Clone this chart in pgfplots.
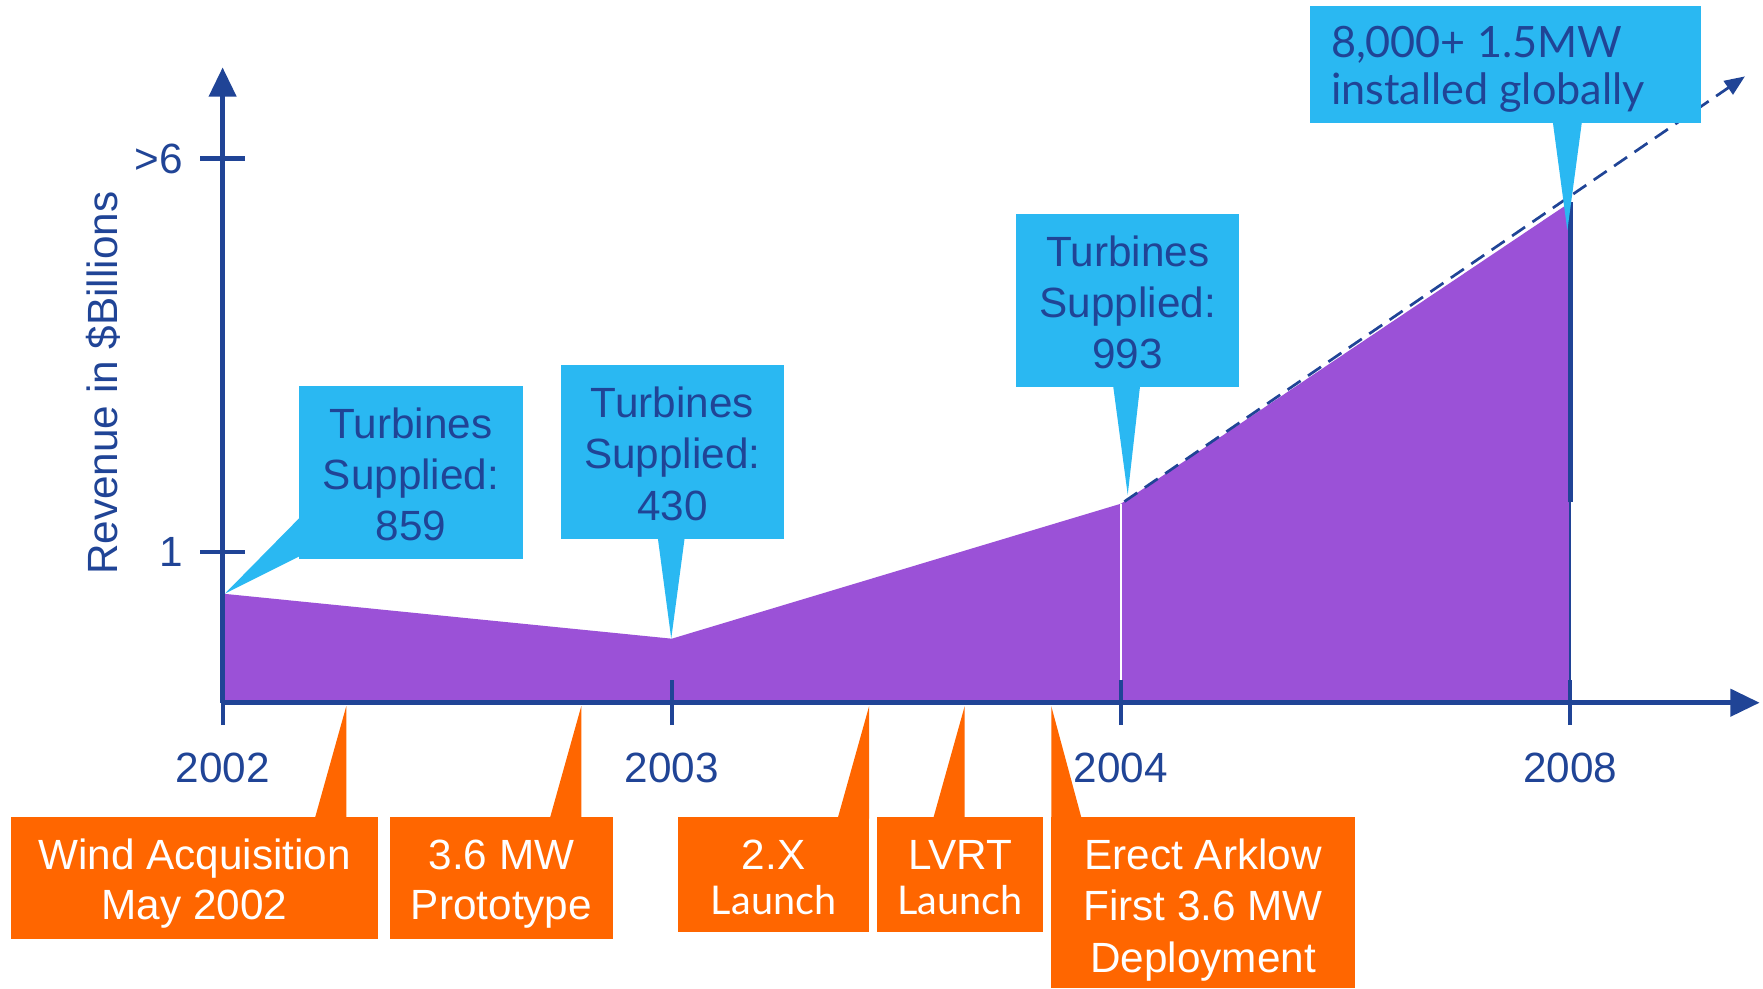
\documentclass[border=0pt]{standalone}
\usepackage{pgfplots}
\pgfplotsset{compat=1.18}
\usepackage{fontspec}
\setmainfont{Liberation Sans}
\newfontfamily\gefont{Lato}
\usetikzlibrary{arrows.meta}
\definecolor{navy}{RGB}{32,68,150}
\definecolor{cblue}{RGB}{42,184,242}
\definecolor{corange}{RGB}{255,102,0}
\definecolor{cpurple}{RGB}{155,81,215}
\begin{document}
\fontsize{9.4pt}{11.5pt}\selectfont
\begin{tikzpicture}
\begin{axis}[
  anchor=origin, at={(0pt,0pt)},
  x=99.875pt, y=33.5pt,
  xmin=0, xmax=3.4218, ymin=0, ymax=4.2164,
  enlargelimits=false,
  axis lines=left,
  axis line style={draw=navy, line width=1pt, -{Triangle[length=6.5pt,width=6pt]}},
  xtick={0,1,2,3}, xticklabels={2002,2003,2004,2008},
  ytick={1,3.612}, yticklabels={1,{>6}},
  tick align=center, major tick length=10pt,
  tick style={draw=navy, line width=0.9pt},
  tick label style={text=navy},
  xticklabel style={yshift=-2.8pt},
  yticklabel style={xshift=-0.5pt},
  ylabel={Revenue in \$Billions},
  ylabel style={at={(axis description cs:-0.0775,0.503)}, anchor=center, text=navy},
  clip=false, axis on top,
]
\addplot[fill=cpurple, draw=none] coordinates {(0,0.724) (1,0.425) (2,1.321) (3,3.321)} \closedcycle;
\addplot[white, line width=0.5pt] coordinates {(2,0) (2,1.321)};
\addplot[navy, line width=0.5pt] coordinates {(3,0) (3,1.33)};
\addplot[navy, line width=1.1pt] coordinates {(3,1.33) (3,3.321)};
\addplot[navy, line width=0.6pt, dash pattern=on 3.5pt off 2pt, -{Triangle[length=4.5pt,width=3.6pt]}] coordinates {(2.0075,1.335) (3.389,4.157)};
\end{axis}
\begin{scope}[x=0.25pt, y=-0.25pt, shift={(-198,-625)}]
% blue callouts
\fill[cblue] (266,343) rectangle (465,497);
\fill[cblue] (266,461) -- (200,528) -- (266,495) -- cycle;
\node[anchor=base, text=navy, inner sep=0pt] at (365.5,390) {Turbines};
\node[anchor=base, text=navy, inner sep=0pt] at (365.5,435) {Supplied:};
\node[anchor=base, text=navy, inner sep=0pt] at (365.5,481) {859};

\fill[cblue] (499,325) rectangle (697,479);
\fill[cblue] (585,478) -- (597,568) -- (609,478) -- cycle;
\node[anchor=base, text=navy, inner sep=0pt] at (598,371) {Turbines};
\node[anchor=base, text=navy, inner sep=0pt] at (598,417) {Supplied:};
\node[anchor=base, text=navy, inner sep=0pt] at (598,463) {430};

\fill[cblue] (904,190) rectangle (1102,344);
\fill[cblue] (990,343) -- (1003,440) -- (1014,343) -- cycle;
\node[anchor=base, text=navy, inner sep=0pt] at (1003,237) {Turbines};
\node[anchor=base, text=navy, inner sep=0pt] at (1003,282) {Supplied:};
\node[anchor=base, text=navy, inner sep=0pt] at (1003,328) {993};

\fill[cblue] (1165,5) rectangle (1513,109);
\fill[cblue] (1381,108) -- (1394,205) -- (1407,108) -- cycle;
\node[anchor=base west, text=navy, inner sep=0pt, font=\gefont\fontsize{9.6pt}{11.5pt}\selectfont] at (1183,51) {8,000+ 1.5MW};
\node[anchor=base west, text=navy, inner sep=0pt, font=\gefont\fontsize{9.6pt}{11.5pt}\selectfont] at (1183,93) {installed globally};

% orange callouts
\fill[corange] (10,727) rectangle (336,835);
\fill[corange] (280,728) -- (308,628) -- (308,728) -- cycle;
\node[anchor=base, text=white, inner sep=0pt] at (173,773) {Wind Acquisition};
\node[anchor=base, text=white, inner sep=0pt] at (173,818) {May 2002};

\fill[corange] (347,727) rectangle (545,835);
\fill[corange] (489,728) -- (517,628) -- (517,728) -- cycle;
\node[anchor=base, text=white, inner sep=0pt] at (446,773) {3.6 MW};
\node[anchor=base, text=white, inner sep=0pt] at (446,818) {Prototype};

\fill[corange] (603,727) rectangle (773,829);
\fill[corange] (745,728) -- (773,628) -- (773,728) -- cycle;
\node[anchor=base, text=white, inner sep=0pt] at (688,773) {2.X};
\node[anchor=base, text=white, inner sep=0pt, font=\gefont\fontsize{8.8pt}{11pt}\selectfont] at (688,813) {Launch};

\fill[corange] (780,727) rectangle (928,829);
\fill[corange] (830,728) -- (858,628) -- (858,728) -- cycle;
\node[anchor=base, text=white, inner sep=0pt] at (854,773) {LVRT};
\node[anchor=base, text=white, inner sep=0pt, font=\gefont\fontsize{8.8pt}{11pt}\selectfont] at (854,813) {Launch};

\fill[corange] (935,727) rectangle (1205,879);
\fill[corange] (935,728) -- (935,628) -- (962,728) -- cycle;
\node[anchor=base, text=white, inner sep=0pt] at (1070,773) {Erect Arklow};
\node[anchor=base, text=white, inner sep=0pt] at (1070,819) {First 3.6 MW};
\node[anchor=base, text=white, inner sep=0pt] at (1070,865) {Deployment};

\pgfresetboundingbox
\useasboundingbox (0,0) rectangle (1568,879);
\end{scope}
\end{tikzpicture}
\end{document}
